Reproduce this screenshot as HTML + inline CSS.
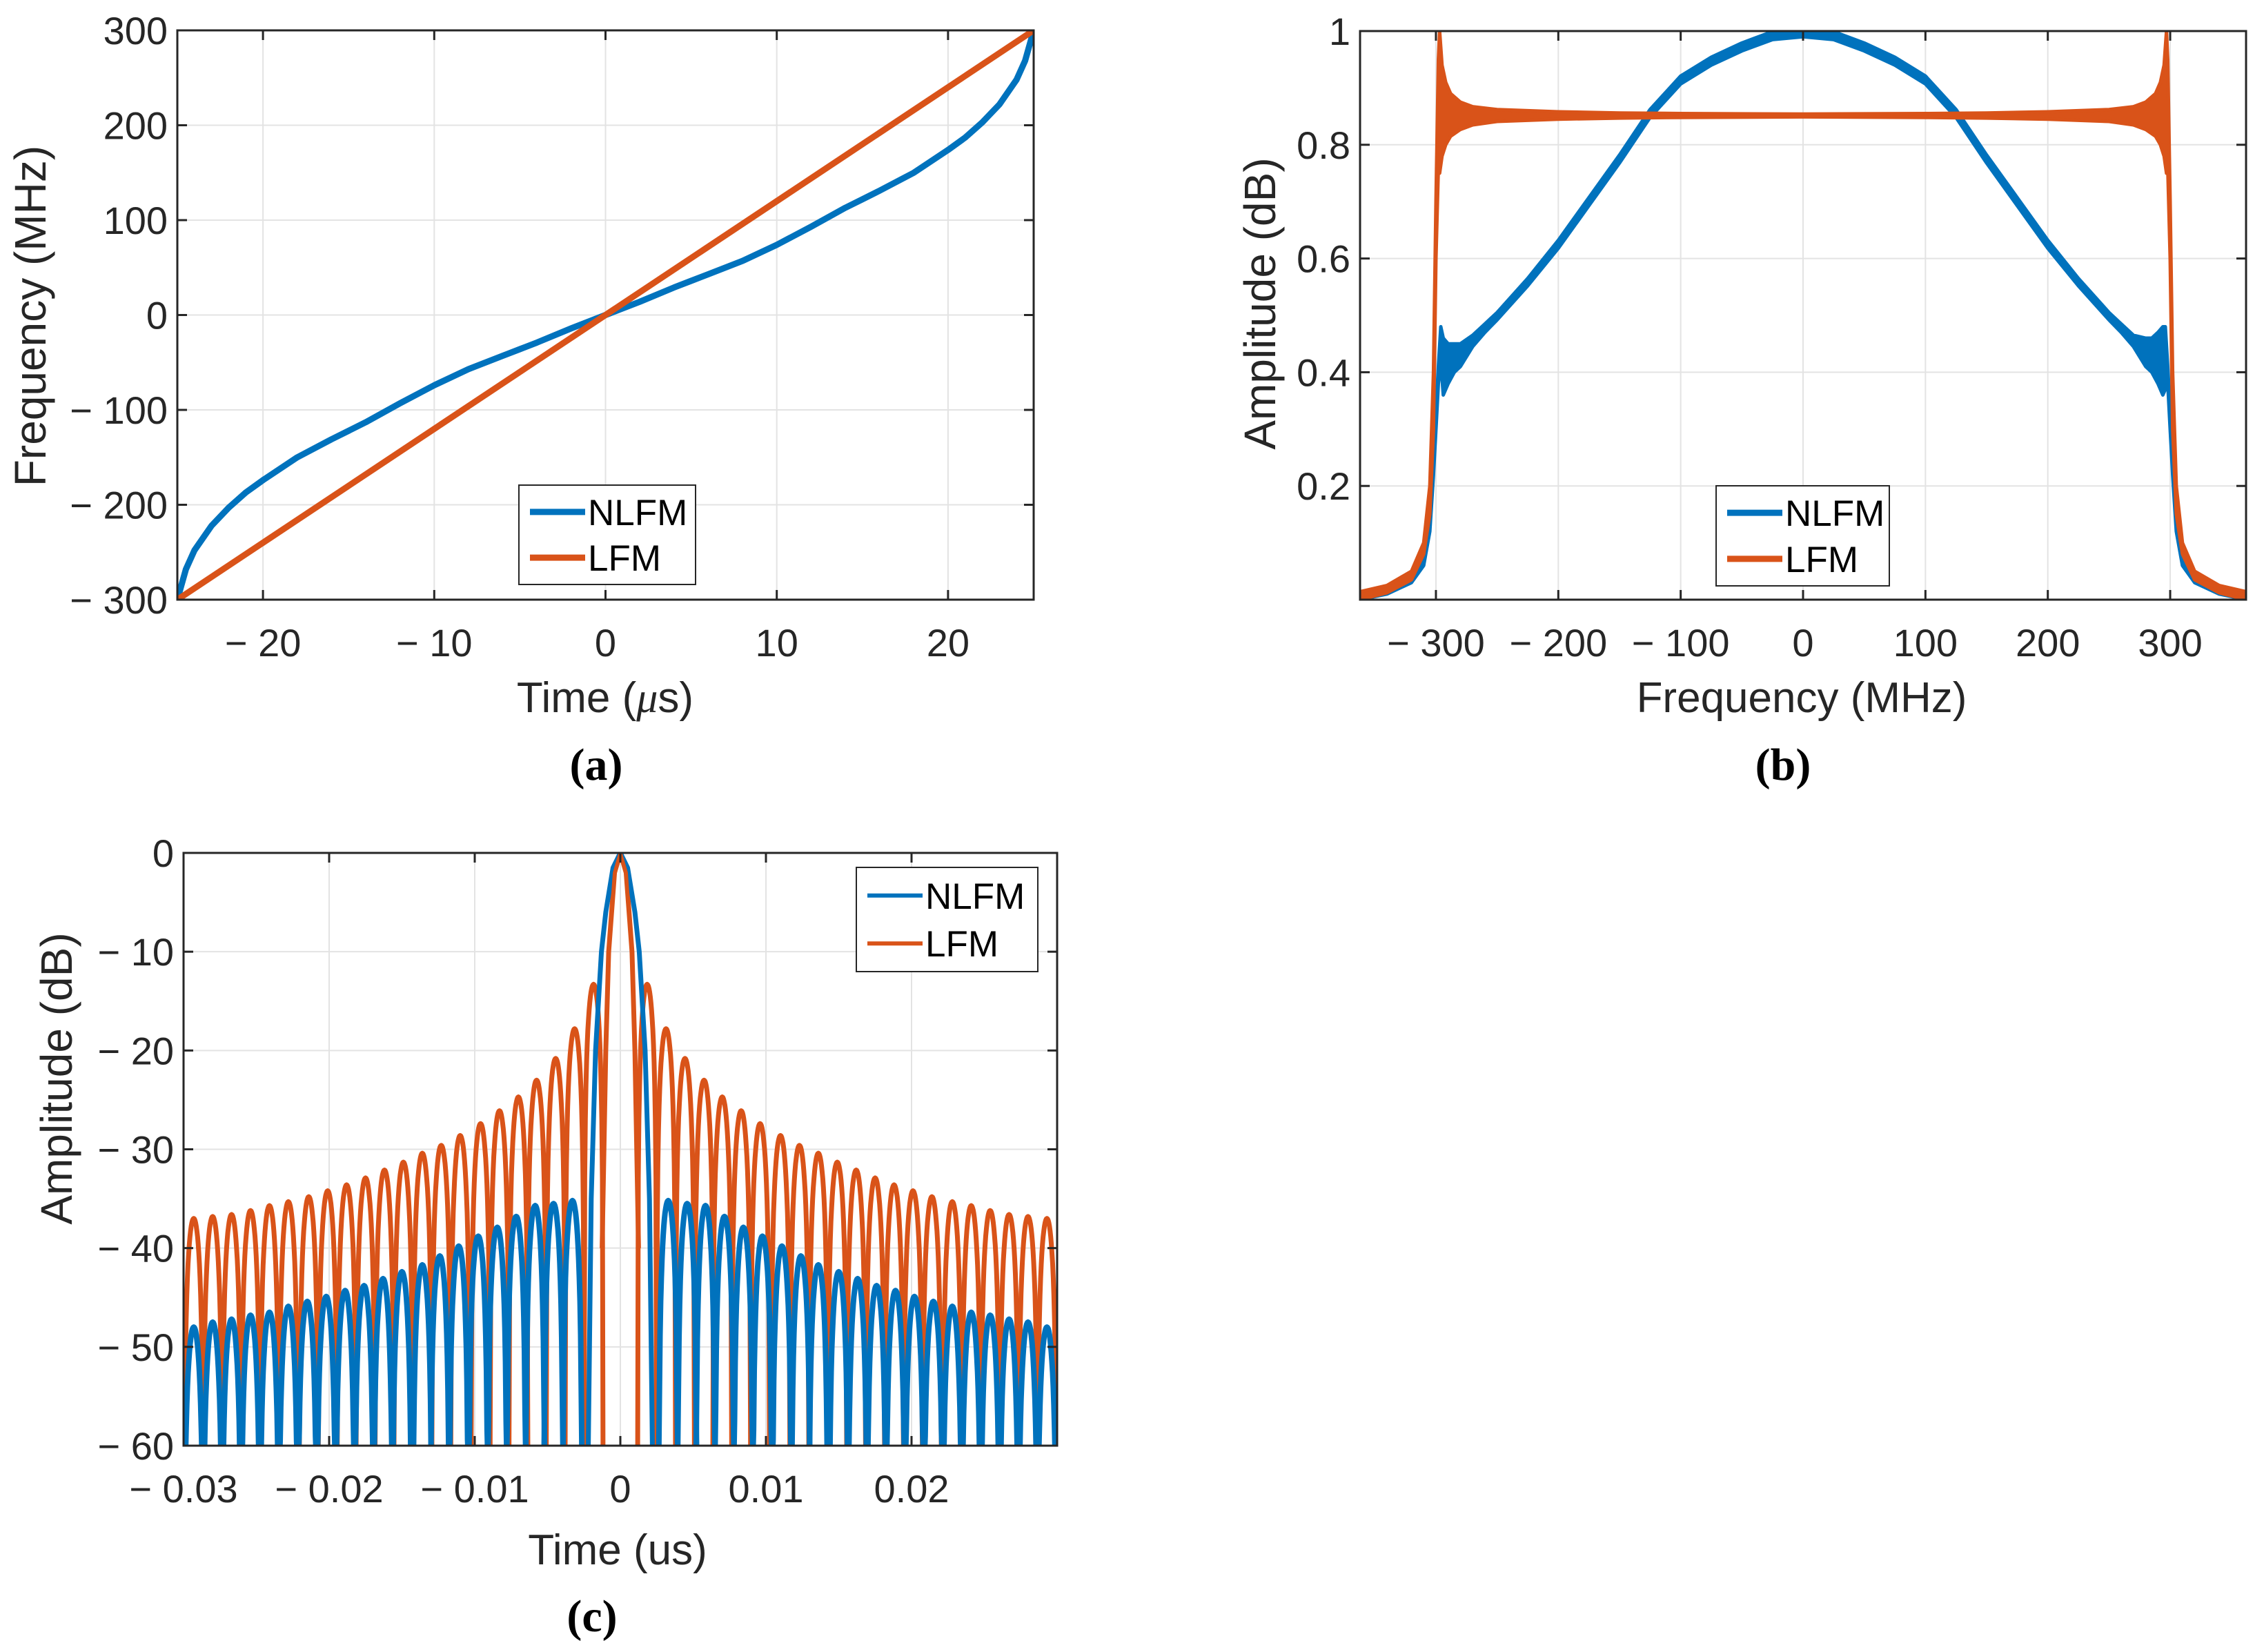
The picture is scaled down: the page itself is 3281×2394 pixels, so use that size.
<!DOCTYPE html>
<html><head><meta charset="utf-8">
<style>
html,body{margin:0;padding:0;background:#fff;}
svg{display:block;font-family:"Liberation Sans",Arial,sans-serif;}
</style></head>
<body>
<svg id="fig" width="3281" height="2394" viewBox="0 0 3281 2394" xmlns="http://www.w3.org/2000/svg"></svg>
<script>
// ---------- Panel (a) data ----------
const aTime = [-25,-24.5,-24,-23,-22,-21,-20,-18,-16,-15,-14,-12,-10,-8,-6,-5,-4,-2,0,2,4,5,6,8,10,12,14,15,16,18,20,21,22,23,24,24.5,25];
const aNlfm = [-300,-268,-248,-222,-203,-187,-174,-150,-131,-122,-113,-93,-74,-57,-43,-36,-29,-14,0,14,29,36,43,57,74,93,113,122,131,150,174,187,203,222,248,268,300];
const aLfmT = [-25,25];
const aLfm = [-300,300];
const aXTicks = [-20,-10,0,10,20];
const aXLabels = ["− 20","− 10","0","10","20"];
const aYTicks = [-300,-200,-100,0,100,200,300];
const aYLabels = ["− 300","− 200","− 100","0","100","200","300"];

// ---------- Panel (b) data ----------
const bFreq = [-362,-340,-320,-310,-305,-302,-300,-298,-296,-294,-290,-285,-280,-270,-260,-250,-225,-200,-175,-150,-125,-100,-75,-50,-25,0,25,50,75,100,125,150,175,200,225,250,260,270,280,285,290,294,296,298,300,302,305,310,320,340,362];
const bNlfmUp = [0.012,0.02,0.04,0.08,0.15,0.25,0.33,0.41,0.48,0.46,0.45,0.45,0.45,0.465,0.485,0.505,0.565,0.632,0.707,0.782,0.862,0.921,0.954,0.979,0.999,1.0,0.999,0.979,0.954,0.921,0.862,0.782,0.707,0.632,0.565,0.505,0.485,0.465,0.46,0.46,0.47,0.48,0.48,0.41,0.33,0.25,0.15,0.08,0.04,0.02,0.012];
const bNlfmLo = [0.0,0.01,0.03,0.06,0.12,0.22,0.30,0.38,0.42,0.36,0.38,0.40,0.41,0.445,0.47,0.492,0.552,0.618,0.693,0.768,0.848,0.907,0.94,0.965,0.985,0.99,0.985,0.965,0.94,0.907,0.848,0.768,0.693,0.618,0.552,0.492,0.47,0.445,0.41,0.40,0.38,0.36,0.37,0.38,0.30,0.22,0.12,0.06,0.03,0.01,0.0];
const bLfmFreq = [-362,-340,-320,-310,-305,-302,-300,-298,-297,-295,-292,-288,-280,-270,-250,-200,-150,-100,0,100,150,200,250,270,280,288,292,295,297,298,300,302,305,310,320,340,362];
const bLfmUp = [0.014,0.025,0.05,0.10,0.20,0.40,0.70,0.95,1.0,0.94,0.91,0.89,0.875,0.867,0.862,0.858,0.856,0.855,0.854,0.855,0.856,0.858,0.862,0.867,0.875,0.89,0.91,0.94,1.0,0.95,0.70,0.40,0.20,0.10,0.05,0.025,0.014];
const bLfmLo = [0.0,0.012,0.035,0.08,0.15,0.30,0.60,0.76,0.75,0.78,0.80,0.815,0.827,0.835,0.841,0.845,0.847,0.848,0.849,0.848,0.847,0.845,0.841,0.835,0.827,0.815,0.80,0.78,0.75,0.76,0.60,0.30,0.15,0.08,0.035,0.012,0.0];
const bXTicks = [-300,-200,-100,0,100,200,300];
const bXLabels = ["− 300","− 200","− 100","0","100","200","300"];
const bYTicks = [0.2,0.4,0.6,0.8,1];
const bYLabels = ["0.2","0.4","0.6","0.8","1"];

// ---------- Panel (c) data ----------
const cLfmMainT = [-0.00125,-0.001,-0.0008,-0.0004,0,0.0004,0.0008,0.001,0.00125];
const cLfmMainDb = [-40,-20,-10,-2,0,-2,-10,-20,-40];
const cLfmLobeT = [0.00184,0.00314,0.00444,0.00575,0.0070,0.0083,0.0096,0.0110,0.0123,0.0136,0.0149,0.0162,0.0175,0.0188,0.0201,0.0214,0.0228,0.0241,0.0254,0.0267,0.0280,0.0293];
const cLfmLobeDb = [-13.3,-17.8,-20.8,-23,-24.7,-26.1,-27.4,-28.6,-29.6,-30.4,-31.3,-32.1,-32.9,-33.6,-34.2,-34.8,-35.3,-35.7,-36.2,-36.6,-36.8,-37.0];
const cNlfmMainT = [-0.0022,-0.002,-0.0017,-0.0013,-0.001,-0.0005,0,0.0005,0.001,0.0013,0.0017,0.002,0.0022];
const cNlfmMainDb = [-60,-35,-20,-10,-6,-1.5,0,-1.5,-6,-10,-20,-35,-60];
const cNlfmLobeT = [0.00329,0.00459,0.00585,0.00715,0.00845,0.00976,0.0111,0.0124,0.0136,0.0150,0.0163,0.0176,0.0189,0.0202,0.0215,0.0228,0.0241,0.0254,0.0267,0.0280,0.0293];
const cNlfmLobeDb = [-35.2,-35.5,-35.7,-36.8,-37.9,-38.8,-39.8,-40.8,-41.7,-42.4,-43.1,-43.8,-44.3,-44.9,-45.4,-45.9,-46.5,-46.8,-47.2,-47.5,-48.0];
const cXTicks = [-0.03,-0.02,-0.01,0,0.01,0.02];
const cXLabels = ["− 0.03","− 0.02","− 0.01","0","0.01","0.02"];
const cYTicks = [-60,-50,-40,-30,-20,-10,0];
const cYLabels = ["− 60","− 50","− 40","− 30","− 20","− 10","0"];

const NS = "http://www.w3.org/2000/svg";
const BLUE = "#0072BD", ORANGE = "#D95319";
const fig = document.getElementById('fig');
function mk(tag, attrs, parent){
  const e = document.createElementNS(NS, tag);
  for (const k in attrs) e.setAttribute(k, attrs[k]);
  (parent||fig).appendChild(e);
  return e;
}

function panel(id, box, xd, yd, xt, xl, yt, yl){
  const g = mk('g', {});
  
  
  const sx = v => box.l + (v - xd[0]) / (xd[1] - xd[0]) * (box.r - box.l);
  const sy = v => box.b - (v - yd[0]) / (yd[1] - yd[0]) * (box.b - box.t);
  const clipId = 'clip-' + id;
  const defs = mk('defs', {}, g);
  const cp = mk('clipPath', {id: clipId}, defs);
  mk('rect', {x: box.l, y: box.t, width: box.r - box.l, height: box.b - box.t}, cp);
  xt.forEach((v, i) => {
    const ln = mk('line', {x1: sx(v), x2: sx(v), y1: box.t, y2: box.b, stroke: '#e3e3e3', 'stroke-width': 2}, g);
    
    
  });
  yt.forEach((v, i) => {
    const ln = mk('line', {x1: box.l, x2: box.r, y1: sy(v), y2: sy(v), stroke: '#e3e3e3', 'stroke-width': 2}, g);
    
    
  });
  const plot = mk('g', {'clip-path': 'url(#' + clipId + ')'}, g);
  
  
  xt.forEach((v, i) => {
    mk('line', {x1: sx(v), x2: sx(v), y1: box.b, y2: box.b - 14, stroke: '#262626', 'stroke-width': 3}, g);
    mk('line', {x1: sx(v), x2: sx(v), y1: box.t, y2: box.t + 14, stroke: '#262626', 'stroke-width': 3}, g);
    const t = mk('text', {x: sx(v), y: box.b + 82, 'font-size': 56, 'text-anchor': 'middle', fill: '#262626'}, g);
    t.textContent = xl[i];
    
    
  });
  yt.forEach((v, i) => {
    mk('line', {x1: box.l, x2: box.l + 14, y1: sy(v), y2: sy(v), stroke: '#262626', 'stroke-width': 3}, g);
    mk('line', {x1: box.r, x2: box.r - 14, y1: sy(v), y2: sy(v), stroke: '#262626', 'stroke-width': 3}, g);
    const t = mk('text', {x: box.l - 14, y: sy(v) + 20, 'font-size': 56, 'text-anchor': 'end', fill: '#262626'}, g);
    t.textContent = yl[i];
    
    
  });
  return {g, plot, sx, sy, box};
}
function frame(P){
  const r = mk('rect', {x: P.box.l, y: P.box.t, width: P.box.r - P.box.l, height: P.box.b - P.box.t, fill: 'none', stroke: '#262626', 'stroke-width': 3}, P.g);
  
  
}
function line(P, xs, ys, color, w, name){
  const pts = xs.map((x, i) => P.sx(x).toFixed(1) + ',' + P.sy(ys[i]).toFixed(1)).join(' ');
  const pl = mk('polyline', {points: pts, fill: 'none', stroke: color, 'stroke-width': w, 'stroke-linejoin': 'round'}, P.plot);
  
  
  return pl;
}
function band(P, xs, up, lo, color, name){
  const pts = xs.map((x, i) => P.sx(x).toFixed(1) + ',' + P.sy(up[i]).toFixed(1));
  for (let i = xs.length - 1; i >= 0; i--) pts.push(P.sx(xs[i]).toFixed(1) + ',' + P.sy(lo[i]).toFixed(1));
  const pg = mk('polygon', {points: pts.join(' '), fill: color, stroke: color, 'stroke-width': 5, 'stroke-linejoin': 'round'}, P.plot);
  
  
}
function legend(P, x, y, w, h, lw, entries){
  const lg = mk('g', {}, P.g);
  
  
  mk('rect', {x, y, width: w, height: h, fill: '#fff', stroke: '#262626', 'stroke-width': 2}, lg);
  entries.forEach((e, i) => {
    const cy = y + h * (0.27 + 0.46 * i);
    const en = mk('g', {}, lg);
    
    
    mk('line', {x1: x + 16, x2: x + 96, y1: cy, y2: cy, stroke: e[1], 'stroke-width': lw}, en);
    const t = mk('text', {x: x + 100, y: cy + 19, 'font-size': 53, fill: '#000'}, en);
    t.textContent = e[0];
  });
}
function text(str, x, y, size, opts, name){
  const t = mk('text', Object.assign({x, y, 'font-size': size, 'text-anchor': 'middle', fill: '#262626'}, opts||{}));
  t.textContent = str;
  
  
  return t;
}

// ===== Panel a =====
const A = panel('a', {l: 257, r: 1498, t: 44, b: 869}, [-25, 25], [-300, 300], aXTicks, aXLabels, aYTicks, aYLabels);
line(A, aTime, aNlfm, BLUE, 9, 'nlfm-frequency-line');
line(A, aLfmT, aLfm, ORANGE, 9, 'lfm-frequency-line');
frame(A);
legend(A, 752, 703, 256, 144, 9, [['NLFM', BLUE], ['LFM', ORANGE]]);
text('Frequency (MHz)', 0, 0, 64, {transform: 'translate(66,458) rotate(-90)'}, 'a-y-axis-title');
const ta = text('', 877, 1032, 62, {}, 'a-x-axis-title');
const s1 = mk('tspan', {}, ta); s1.textContent = 'Time (';
const s2 = mk('tspan', {'font-style': 'italic', 'font-family': 'Liberation Serif, serif'}, ta); s2.textContent = 'μ';
const s3 = mk('tspan', {}, ta); s3.textContent = 's)';
text('(a)', 864, 1130, 66, {'font-family': 'Liberation Serif, serif', 'font-weight': 'bold', fill: '#000'}, 'caption-a');

// ===== Panel b =====
const B = panel('b', {l: 1971, r: 3255, t: 45, b: 869}, [-362, 362], [0, 1], bXTicks, bXLabels, bYTicks, bYLabels);
band(B, bFreq, bNlfmUp, bNlfmLo, BLUE, 'nlfm-spectrum-band');
band(B, bLfmFreq, bLfmUp, bLfmLo, ORANGE, 'lfm-spectrum-band');
frame(B);
legend(B, 2487, 704, 251, 145, 9, [['NLFM', BLUE], ['LFM', ORANGE]]);
text('Amplitude (dB)', 0, 0, 64, {transform: 'translate(1848,440) rotate(-90)'}, 'b-y-axis-title');
text('Frequency (MHz)', 2611, 1032, 62, {}, 'b-x-axis-title');
text('(b)', 2584, 1130, 66, {'font-family': 'Liberation Serif, serif', 'font-weight': 'bold', fill: '#000'}, 'caption-b');

// ===== Panel c =====
const C = panel('c', {l: 266, r: 1532, t: 1236, b: 2095}, [-0.03, 0.03], [-60, 0], cXTicks, cXLabels, cYTicks, cYLabels);
function lobes(P, centers, peaks, hw, color, w, name){
  [-1, 1].forEach(side => {
    centers.forEach((c, i) => {
      const xs = [], ys = [];
      const n = 30;
      for (let k = 0; k <= n; k++) {
        const u = k / n;
        const s = Math.max(Math.sin(Math.PI * u), 1e-4);
        xs.push(side * (c - hw + 2 * hw * u));
        ys.push(Math.max(-61, peaks[i] + 20 * Math.log10(s)));
      }
      line(P, xs, ys, color, w, name);
    });
  });
}
lobes(C, cLfmLobeT, cLfmLobeDb, 0.00065, ORANGE, 7, 'lfm-sidelobe');
line(C, cLfmMainT, cLfmMainDb, ORANGE, 7, 'lfm-mainlobe');
lobes(C, cNlfmLobeT, cNlfmLobeDb, 0.00065, BLUE, 8, 'nlfm-sidelobe');
line(C, cNlfmMainT, cNlfmMainDb, BLUE, 7, 'nlfm-mainlobe');
line(C, cLfmMainT, cLfmMainDb, ORANGE, 5, 'lfm-mainlobe-top');
frame(C);
legend(C, 1241, 1257, 263, 151, 6, [['NLFM', BLUE], ['LFM', ORANGE]]);
text('Amplitude (dB)', 0, 0, 64, {transform: 'translate(104,1563) rotate(-90)'}, 'c-y-axis-title');
text('Time (us)', 895, 2267, 62, {}, 'c-x-axis-title');
text('(c)', 858, 2364, 66, {'font-family': 'Liberation Serif, serif', 'font-weight': 'bold', fill: '#000'}, 'caption-c');
</script>
</body></html>
